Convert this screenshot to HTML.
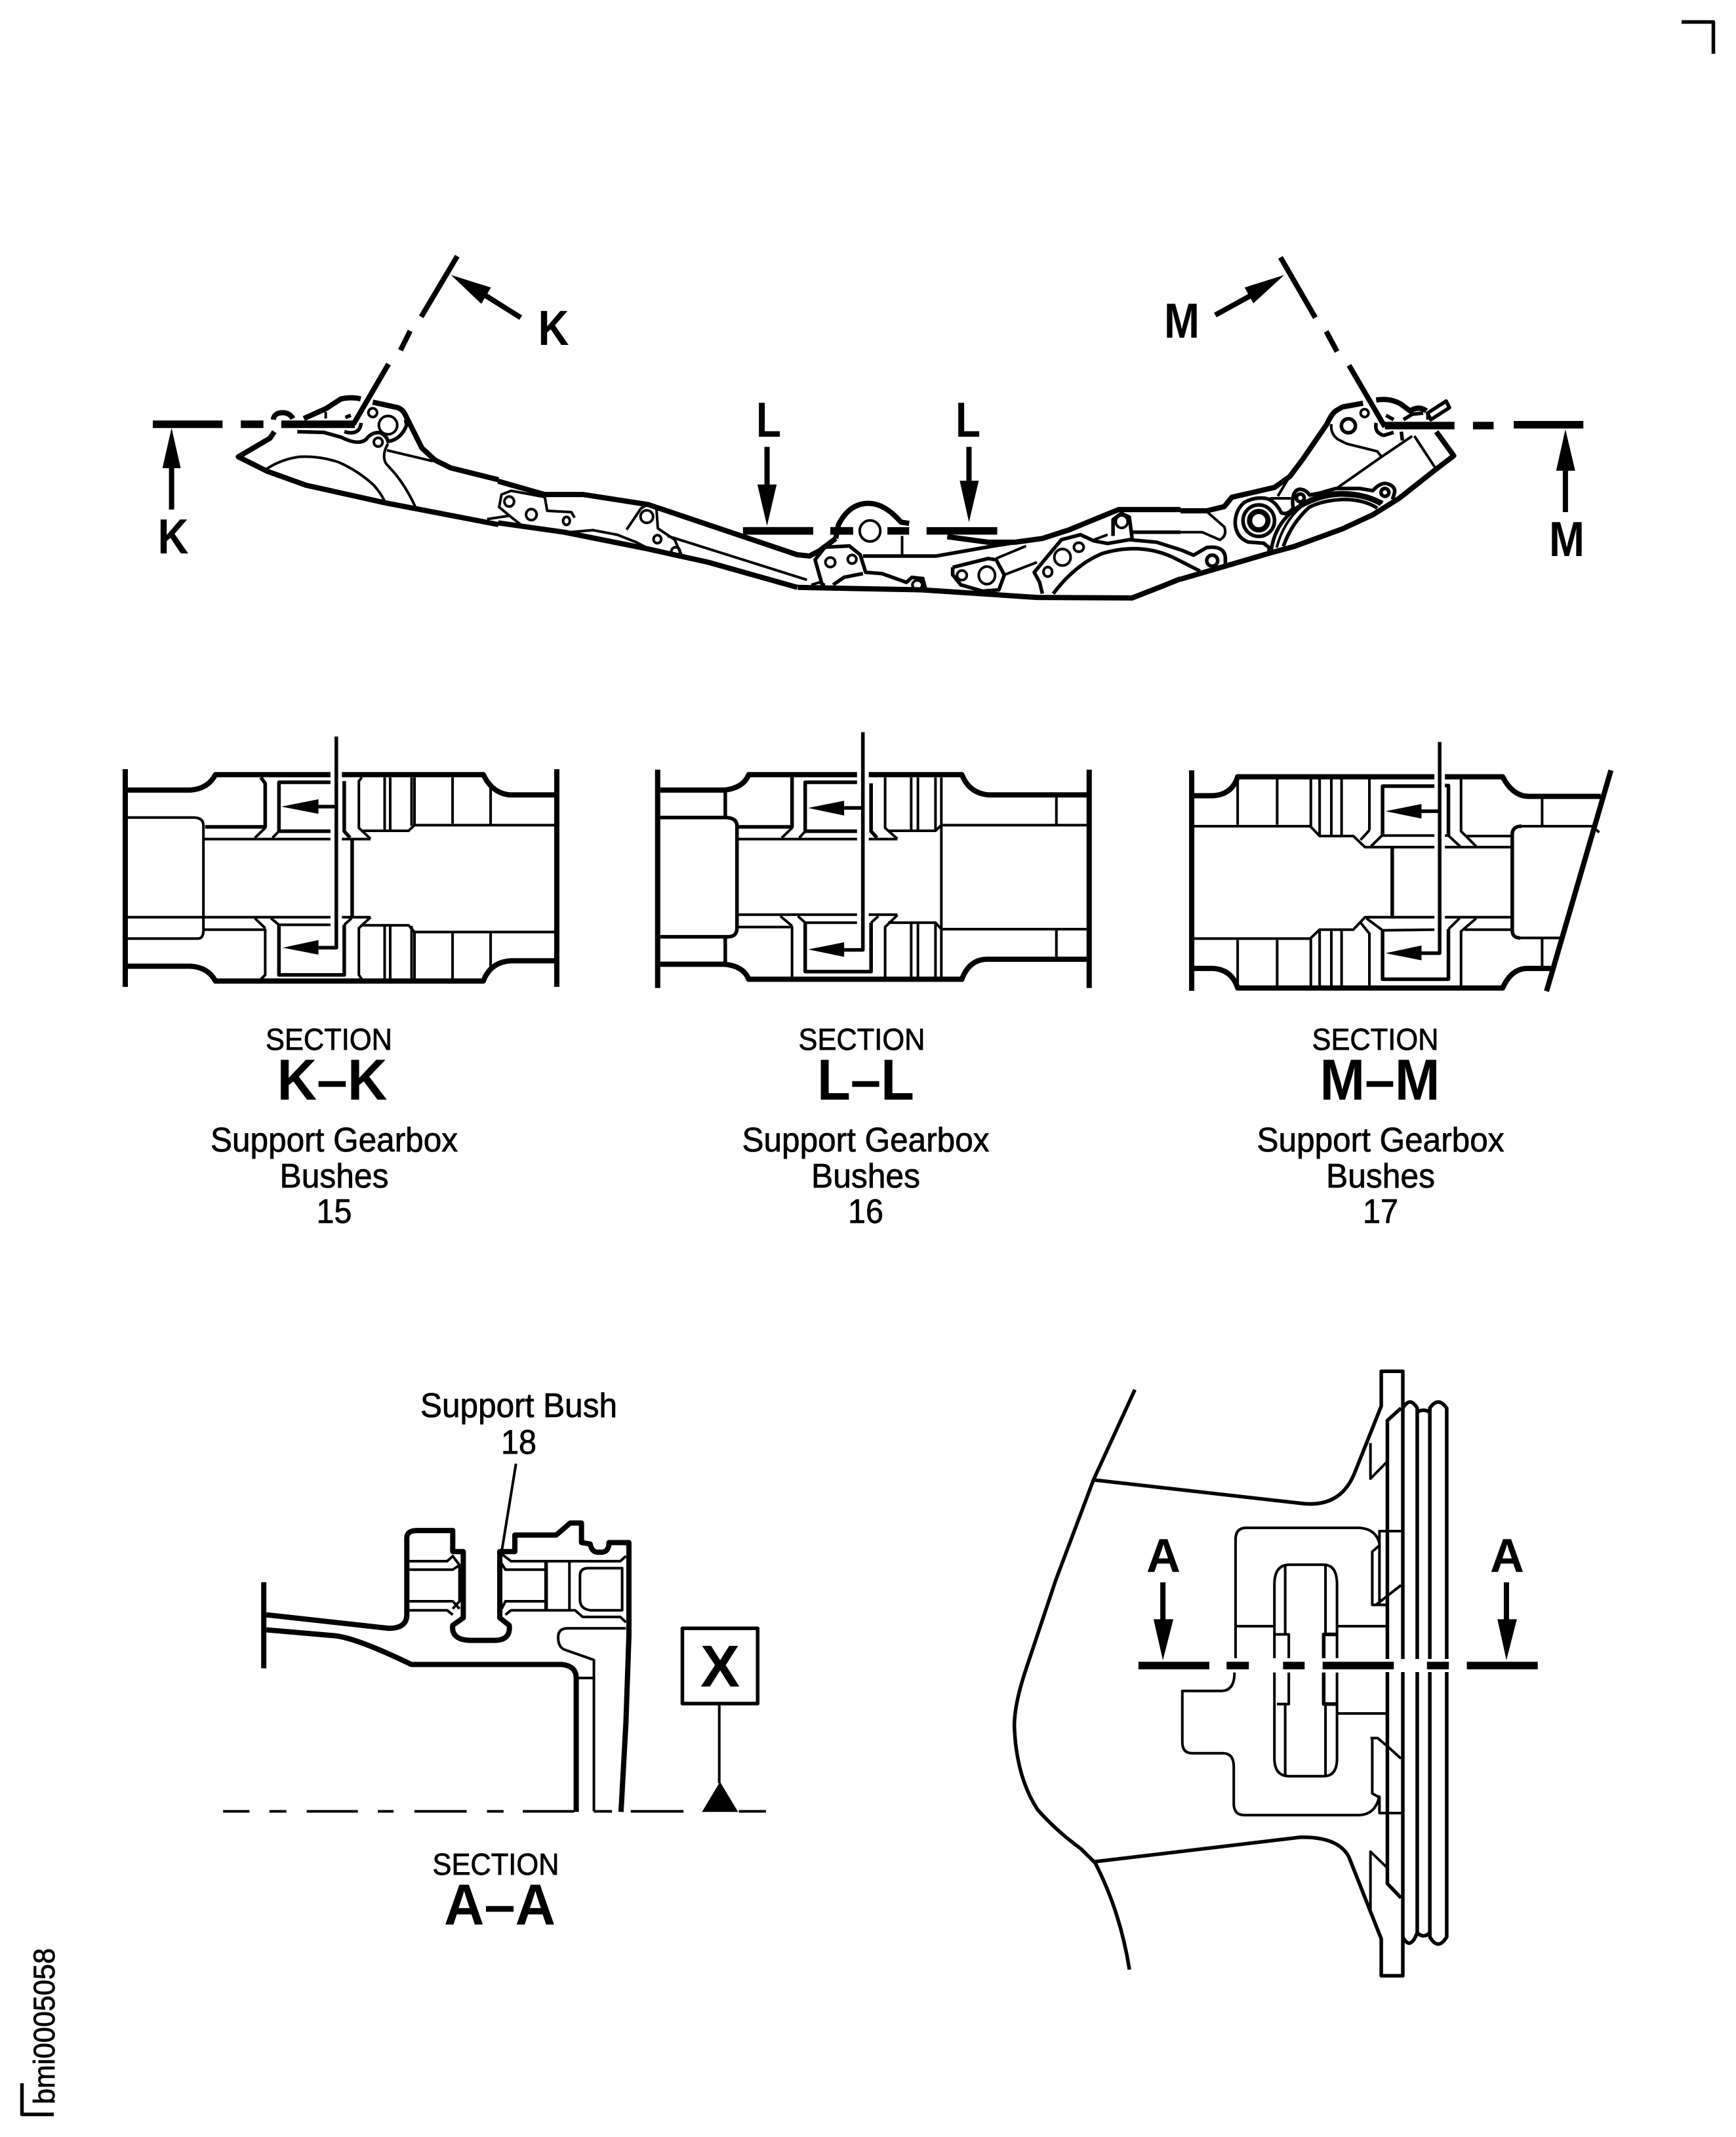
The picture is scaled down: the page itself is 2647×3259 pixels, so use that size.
<!DOCTYPE html>
<html><head><meta charset="utf-8">
<style>
html,body{margin:0;padding:0;background:#fff}
svg{display:block}
svg *{vector-effect:non-scaling-stroke}
.d{fill:none;stroke:#000;stroke-linejoin:round;stroke-linecap:butt;stroke-width:4}
.d .t{stroke-width:8}
.d .m{stroke-width:5.5}
.d .x{stroke-width:11.5}
.d .f{fill:#000;stroke:none}
text{font-family:"Liberation Sans",sans-serif;fill:#000;text-anchor:middle}
.b{font-weight:bold}
.r text,text.r{stroke:#000;stroke-width:.8}
</style></head><body>
<svg xmlns="http://www.w3.org/2000/svg" width="2647" height="3259" viewBox="0 0 2647 3259">
<rect width="2647" height="3259" fill="#fff"/>

<g class="d"><polyline class="m" points="2564,33.5 2612.5,33.5 2612.5,82"/><polyline class="m" points="33.5,3177 33.5,3224.5 82,3224.5"/></g>

<!-- top view far left, true 3x trace -->
<g class="d" transform="translate(340,590) scale(.33333)">
<polyline class="t" points="1260,630 1000,580 740,530 380,450 200,385 70,320 215,235 235,205"/>
<path class="t" d="M230,150Q235,118 272,118Q305,118 320,145"/>
<path class="t" d="M370,145L470,100L540,55Q590,45 630,55"/>
<path class="t" d="M685,70L800,95Q825,105 835,130L910,280L970,335L1040,370L1260,425"/>
<path d="M200,375Q270,330 350,320Q440,315 530,345Q620,385 690,450Q725,490 740,525"/>
<polyline points="750,290 960,340"/>
<path d="M755,260Q725,310 745,350L790,400Q845,470 880,550"/>
<circle cx="755" cy="175" r="42"/><circle cx="685" cy="118" r="20"/><circle cx="710" cy="253" r="20"/>
<path class="m" d="M340,205L460,208L540,230Q620,270 655,240Q680,205 720,210Q750,225 755,250Q815,240 840,175L835,150"/>
<polyline points="470,115 470,145"/>
<path class="m" d="M555,205Q625,225 632,165"/>
<polyline class="m" points="560,140 585,130"/>
</g>

<!-- top view left -->
<g class="d" transform="translate(200,360) scale(.7334,.3827)">
<polyline class="t" points="1385,1400 1200,1300 1070,1245 900,1180 763,1143"/>
<polyline class="t" points="763,977 860,1030 940,1030 1075,1070 1385,1270 1410,1275 1430,1255 1465,1205"/>
<polyline points="810,1150 790,1120 765,1080 770,1030 790,1015 860,1040 865,1095 915,1100 922,1122"/>
<ellipse cx="786" cy="1058" rx="10" ry="20"/><ellipse cx="832" cy="1110" rx="11" ry="22"/><ellipse cx="905" cy="1135" rx="7" ry="16"/>
<polyline points="740,1128 785,1115"/>
<polyline points="910,1180 960,1172 1010,1190 1050,1220 1080,1250"/>
<polyline points="1030,1170 1060,1085 1075,1068 1092,1085 1095,1165 1130,1210 1145,1275"/>
<ellipse cx="1072" cy="1118" rx="13" ry="25"/><ellipse cx="1094" cy="1208" rx="8" ry="16"/><ellipse cx="1132" cy="1258" rx="9" ry="18"/>
<polyline points="1115,1195 1405,1370"/>
<!-- cut line K -->
<polyline class="t" points="678,80 603,322"/><polyline class="t" points="580,378 560,455"/><polyline class="t" points="535,510 462,750"/>
<polyline class="x" points="45,750 190,750"/><polyline class="x" points="228,750 275,750"/><polyline class="x" points="312,750 465,750"/>
<polyline class="t" points="810,325 735,235"/><polygon class="f" points="665,155 748,205 728,270"/>
<polyline class="t" points="84,925 84,1090"/><polygon class="f" points="84,765 65,925 103,925"/>
<polyline class="x" points="1272,1175 1418,1175"/><polyline class="x" points="1455,1175 1500,1175"/>
<polyline class="t" points="1322,840 1322,990"/><polygon class="f" points="1322,1155 1302,990 1342,990"/>
</g>

<!-- top view centre -->
<g class="d" transform="translate(1150,360) scale(.829,.3827)">
<polyline class="t" points="80,1400 310,1410 520,1440 695,1442 745,1400 784,1366"/>
<path class="t" d="M150,1205L155,1150Q175,1065 210,1065Q240,1065 270,1140L285,1145"/>
<ellipse cx="213" cy="1175" rx="19" ry="42"/>
<polyline class="m" points="125,1390 112,1290 130,1240 175,1235 195,1270 205,1340 235,1345 280,1380 290,1360 310,1365 315,1405"/>
<ellipse cx="140" cy="1300" rx="9" ry="19"/><ellipse cx="180" cy="1288" rx="8" ry="17"/><ellipse cx="300" cy="1390" rx="9" ry="18"/>
<polyline class="m" points="200,1275 335,1275 440,1235 530,1205"/>
<polyline points="272,1195 272,1270"/>
<polyline class="m" points="145,1390 165,1360 200,1345"/>
<polyline points="105,1390 120,1380 130,1390"/>
<polyline class="t" points="355,1198 430,1220 480,1220 530,1205 580,1170 670,1090 784,1090"/>
<polyline class="m" points="365,1320 430,1285 445,1290 460,1350 450,1410 420,1415 380,1390 365,1350 365,1320"/>
<ellipse cx="382" cy="1352" rx="9" ry="19"/><ellipse cx="428" cy="1352" rx="15" ry="35"/>
<polyline points="445,1285 500,1235"/><polyline points="460,1350 520,1300"/>
<polyline class="m" points="530,1425 525,1380 515,1340 565,1210 600,1190 625,1215 650,1225 690,1210 740,1220 784,1250"/>
<ellipse cx="567" cy="1280" rx="15" ry="33"/><ellipse cx="597" cy="1240" rx="9" ry="18"/><ellipse cx="540" cy="1338" rx="8" ry="19"/>
<path class="m" d="M550,1425Q590,1310 640,1265Q710,1220 770,1280L820,1335"/>
<polyline points="650,1190 625,1210"/>
<polyline class="m" points="660,1195 660,1130 675,1105 690,1120 695,1205"/>
<ellipse cx="676" cy="1138" rx="11" ry="25"/>
<polyline class="m" points="695,1180 784,1180"/>
<!-- cut lines -->
<polyline class="x" points="-10,1175 108,1175"/><polyline class="x" points="140,1175 182,1175"/><polyline class="x" points="245,1175 285,1175"/><polyline class="x" points="317,1175 447,1175"/>
<polyline class="t" points="395,840 395,975"/><polygon class="f" points="395,1140 378,975 413,975"/>
<polyline class="t" points="968,85 1032,325"/><polyline class="t" points="1052,380 1072,460"/><polyline class="t" points="1094,515 1160,760"/>
<polyline class="x" points="1160,755 1288,755"/><polyline class="x" points="1322,755 1360,755"/><polyline class="x" points="1397,752 1525,752"/>
<polyline class="t" points="848,315 915,235"/><polygon class="f" points="975,155 902,205 918,268"/>
<polyline class="t" points="1492,935 1492,1100"/><polygon class="f" points="1492,770 1475,935 1510,935"/>
</g>

<!-- top view right, true 3x trace -->
<g class="d" transform="translate(1800,590) scale(.33333)">
<path class="t" d="M0,880L410,760L520,730L740,650L880,585L1000,510L1165,380L1250,315L1170,205"/>
<path class="t" d="M0,567H120L200,548L235,505L430,460L500,410L560,330L670,170Q690,125 710,110L740,92L835,75"/>
<path class="t" d="M895,60Q960,50 1010,80L1050,110Q1090,85 1125,110"/>
<polygon class="m" points="1130,120 1215,65 1230,95 1145,150"/>
<polyline points="1130,115 1130,150"/>
<polyline class="m" points="1020,150 1060,125 1110,120"/>
<circle class="m" cx="768" cy="178" r="32"/><circle cx="842" cy="120" r="18"/>
<path d="M690,170Q685,215 720,240L760,260L900,295L920,320"/>
<path class="m" d="M895,165Q885,210 930,222L975,208"/>
<polyline class="m" points="1010,205 1015,245"/>
<polyline points="720,460 920,320 1060,225"/>
<polyline points="1070,225 1165,370"/>
<polyline class="m" points="940,130 975,150"/>
<polyline points="445,500 490,425"/>
<path class="m" d="M400,512Q340,500 290,530Q250,565 250,625Q255,690 310,710L380,715L405,735V755"/>
<path class="m" d="M400,512Q440,530 460,575Q490,590 515,555Q505,475 545,468Q575,470 590,495L640,485L710,465L820,465L880,475Q910,440 940,442Q980,450 980,480L970,515"/>
<polyline points="410,510 505,510"/>
<circle class="m" cx="358" cy="612" r="72"/><circle class="t" cx="358" cy="612" r="42"/>
<path class="m" d="M415,745Q430,650 490,590Q590,490 720,485Q830,480 925,530"/>
<path d="M440,735Q470,620 550,550Q640,500 730,497Q840,495 915,540"/>
<path class="m" d="M470,730Q510,620 590,550Q660,515 760,515Q850,520 900,555"/>
<circle class="m" cx="548" cy="508" r="18"/><circle class="m" cx="935" cy="483" r="18"/>
<path d="M125,575L200,640Q215,680 180,700L100,665H0"/>
<path class="m" d="M0,745L60,770L120,735Q200,725 205,780V810"/>
<circle class="m" cx="145" cy="795" r="25"/>
</g>

<!-- Section K-K -->
<g class="d" transform="translate(170,1100) scale(.4464,.332)">
<path class="t" d="M47,220V1220M1521,220V1220"/>
<path class="t" d="M55,316H270Q330,310 355,245H748"/>
<path class="t" d="M787,245H1270Q1300,330 1360,338H1515"/>
<path class="t" d="M55,1125H270Q330,1130 355,1193H1270Q1295,1105 1365,1100H1515"/>
<path d="M55,442H280Q314,442 314,480V960Q314,998 295,998H55"/>
<polyline class="m" points="320,485 525,485 525,285 510,258"/>
<polyline points="525,490 490,535"/>
<polyline points="318,541 748,541"/><polyline points="787,541 885,541"/>
<polyline class="m" points="748,280 572,280 572,505 748,505"/><polyline points="572,505 550,535"/>
<polyline class="m" points="795,275 795,505 815,535"/><polyline points="855,258 845,275 845,490 885,540"/>
<polyline points="858,503 1015,503 1035,477 1515,477"/>
<path d="M933,258V500M952,258V500M1025,258V480M1035,258V477M1165,258V470M1295,300V472"/>
<path class="m" d="M822,541V895"/>
<polyline points="55,900 748,900"/><polyline points="787,900 885,900"/>
<polyline points="318,957 525,957 525,1165 510,1185"/><polyline points="490,905 525,950"/>
<polyline points="545,905 572,935 748,935"/>
<polyline class="m" points="572,935 572,1165 795,1165 795,935"/><polyline points="795,935 820,905"/>
<polyline points="885,900 845,950 845,1165 855,1185"/>
<polyline points="858,937 1015,937 1035,968 1515,968"/>
<path d="M933,940V1185M952,940V1185M1025,940V1185M1035,968V1185M1165,970V1185M1295,972V1135"/>
<polyline class="m" points="768,70 768,1040 707,1040"/><polyline class="m" points="768,392 707,392"/>
<polygon class="f" points="580,392 707,358 707,425"/><polygon class="f" points="585,1040 707,1005 707,1072"/>
</g>

<!-- Section L-L -->
<g class="d" transform="translate(980,1100) scale(.4464,.332)">
<path class="t" d="M51,222V1225M1525,222V1225"/>
<path class="t" d="M60,316H280Q345,305 362,245H732"/>
<path class="t" d="M772,245H1090Q1115,330 1180,338H1518"/>
<path class="t" d="M60,1116H280Q345,1125 362,1185H1090Q1115,1095 1175,1093H1518"/>
<path class="m" d="M282,320V437M282,996V1112"/>
<path class="m" d="M60,442H285Q322,445 322,480V950Q322,990 290,990H60"/>
<polyline class="m" points="328,485 510,485 510,257"/>
<polyline points="510,490 475,535"/>
<polyline points="328,541 732,541"/><polyline points="772,541 870,541"/>
<polyline class="m" points="732,280 555,280 555,505 732,505"/><polyline points="555,505 535,535"/>
<polyline class="m" points="780,285 780,505 800,535"/><polyline points="828,258 828,490 870,540"/>
<polyline points="838,503 1000,503 1020,477 1518,477"/>
<path d="M917,258V500M940,258V500M1000,258V500M1020,258V477M1020,477V950M1413,350V472"/>
<polyline points="328,888 732,888"/><polyline points="772,888 870,888"/>
<polyline points="328,945 510,945 510,1180"/><polyline points="470,895 510,940"/>
<polyline points="530,895 555,925 732,925"/>
<polyline class="m" points="555,925 555,1150 780,1150 780,925"/><polyline points="780,925 805,895"/>
<polyline points="870,890 828,945 828,1180"/>
<polyline points="838,925 1000,925 1020,955 1518,955"/>
<path d="M917,925V1180M940,925V1180M1000,925V1180M1020,955V1180M1413,960V1085"/>
<polyline class="m" points="752,50 752,1050 688,1050"/><polyline class="m" points="752,398 688,398"/>
<polygon class="f" points="565,398 688,365 688,433"/><polygon class="f" points="565,1048 688,1015 688,1082"/>
</g>

<!-- Section M-M -->
<g class="d" transform="translate(1780,1100) scale(.4464,.332)">
<path class="t" d="M83,225V1238M1515,225L1295,1240"/>
<path class="t" d="M90,342H150Q220,340 240,255H912"/>
<path class="t" d="M948,255H1145Q1180,345 1235,345H1480"/>
<path class="t" d="M90,1135H155Q220,1140 240,1225H1145Q1175,1135 1230,1135H1310"/>
<polyline points="90,482 488,482 520,527 635,527 675,578 912,578"/>
<polyline points="948,578 1172,578"/>
<path class="m" d="M1210,482Q1178,482 1178,520V960Q1178,995 1205,995"/>
<polyline points="1205,995 1345,995"/><polyline points="1210,482 1450,482 1475,510"/>
<path d="M240,262V475M375,262V475M490,265V490M520,265V525M560,265V525M595,265V525M690,265V500"/>
<polyline points="690,500 660,545"/>
<polyline class="m" points="912,298 735,298 735,522"/><polyline points="735,522 695,575"/><polyline points="735,525 912,525"/>
<polyline class="m" points="948,295 960,295 960,525"/><polyline points="948,525 960,525 1000,575"/>
<polyline points="1003,265 1003,505 1055,575"/><polyline points="1020,527 1172,527"/>
<path class="m" d="M768,578V900"/>
<polyline points="90,998 488,998 520,957 635,957 675,900 912,900"/>
<polyline points="948,900 1172,900"/>
<polyline points="680,905 735,960 912,957"/>
<polyline class="m" points="735,960 735,1185 960,1185 960,955"/><polyline points="960,955 998,905"/>
<polyline points="1055,905 1003,965 1003,1220"/><polyline points="1015,957 1172,957"/>
<polyline points="660,925 690,975 690,1220"/>
<path d="M240,1005V1220M375,1005V1220M490,998V1220M520,960V1220M560,960V1220M595,960V1220M1280,1000V1130M1280,355V480"/>
<polyline class="m" points="930,95 930,1065 868,1065"/><polyline class="m" points="930,413 868,413"/>
<polygon class="f" points="745,413 868,380 868,447"/><polygon class="f" points="745,1065 868,1030 868,1098"/>
</g>

<!-- Section A-A -->
<g class="d" transform="translate(300,2100) scale(.574,.459)">
<path class="t" d="M178,682V968"/>
<path class="t" d="M185,790L510,835Q558,835 558,790V535Q558,510 585,510H680V580H708V800L680,825Q675,875 730,875H790Q835,875 830,825L805,800V580H845V525H955L992,485H1022V550L1045,555Q1050,585 1070,582Q1095,585 1095,550H1148V860L1140,1150L1127,1445"/>
<path class="t" d="M185,840L370,860Q430,870 570,955H970Q1008,960 1008,1000V1445"/>
<polyline points="565,612 665,612 680,595 698,625 698,745 680,770"/>
<polyline points="565,640 680,640 698,625"/>
<polyline points="565,745 680,745 698,770"/>
<polyline points="565,775 665,775 680,790"/>
<polyline points="812,590 835,612 1125,612 1140,595"/>
<polyline points="810,620 820,640 925,640"/>
<polyline points="810,770 820,745 925,745"/>
<polyline points="820,790 835,775 1005,775 1025,797 1125,797 1140,815"/>
<path class="m" d="M928,612V775"/><path d="M990,612V775"/>
<path d="M1040,635H1130V775H1045Q1018,770 1018,740V660Q1018,635 1040,635Z"/>
<path d="M1140,835H985Q960,835 960,865Q960,895 975,905L1055,940V1443"/>
<polyline points="1010,1000 1055,1000"/>
<polyline points="848,288 810,580"/>
<path d="M70,1443H140M193,1443H238M292,1443H428M481,1443H523M578,1443H717M771,1443H815M866,1443H1003M1055,1443H1103M1153,1443H1293M1440,1443H1512"/>
<rect class="m" x="1290" y="835" width="200" height="250"/>
<polyline points="1388,1085 1388,1350"/>
<polygon class="f" points="1390,1345 1342,1445 1438,1445"/>
</g>

<!-- Side view -->
<g class="d" transform="translate(1500,2060) scale(.5485,.625)">
<path class="m" d="M420,95L305,315L200,560L120,770Q85,860 85,915Q90,1040 150,1120Q200,1170 270,1215L310,1250Q380,1370 405,1510"/>
<path class="m" d="M305,315L880,372Q990,385 1030,300L1105,135V50H1165V1525H1105V1435L1015,1235Q985,1185 880,1187L305,1247"/>
<path class="m" d="M1165,140Q1185,110 1205,140V1420Q1185,1465 1165,1430"/>
<path class="m" d="M1240,140Q1263,110 1287,140V1430Q1263,1465 1240,1430Z"/>
<path class="m" d="M1205,150Q1222,140 1240,150M1205,1420Q1222,1435 1240,1420"/>
<polyline class="m" points="1160,140 1122,170 1122,1300 1160,1335"/>
<polyline points="1122,270 1075,312 1075,225"/>
<polyline points="1160,440 1100,440 1100,620"/>
<path d="M700,750V460Q700,432 730,432H1045Q1090,435 1100,470"/>
<path d="M697,785Q697,830 660,830H552V955Q552,982 580,982H665Q695,982 695,1015V1105Q695,1133 725,1133H1040Q1090,1133 1100,1085"/>
<polyline points="1100,475 1080,490 1080,620 1122,620"/>
<polyline points="1090,620 1160,572"/>
<polyline points="1075,945 1095,945 1122,965 1160,995"/>
<polyline points="1080,945 1080,1080 1100,1090 1100,1128 1160,1128"/>
<polyline points="1075,1365 1075,1222 1122,1262"/>
<path d="M808,750V570Q808,522 850,522H945Q982,522 982,570V750"/>
<path d="M808,785V995Q808,1038 850,1038H945Q982,1038 982,995V785"/>
<path d="M838,525V690M950,520V690M838,865V1035M950,865V1035"/>
<polyline points="808,692 848,692 848,750"/>
<polyline class="m" points="982,692 945,692 945,750"/>
<polyline points="815,862 848,862 848,785"/>
<polyline class="m" points="945,785 945,862 982,862"/>
<path d="M700,672H808M985,672H1122M985,885H1122"/>
<rect x="785" y="752" width="515" height="32" fill="#fff" stroke="none"/>
<path class="x" d="M430,768H627M675,768H737M832,768H892M942,768H1140M1232,768H1293M1343,768H1540"/>
<path class="t" d="M498,565V660M1453,565V660"/>
<polygon class="f" points="498,755 472,655 527,655"/><polygon class="f" points="1453,755 1428,655 1482,655"/>
</g>

<!-- bold letters -->
<g class="b">
<text x="844" y="526" font-size="75" textLength="47" lengthAdjust="spacingAndGlyphs">K</text>
<text x="264" y="844" font-size="75" textLength="47" lengthAdjust="spacingAndGlyphs">K</text>
<text x="1172" y="666" font-size="75" textLength="38" lengthAdjust="spacingAndGlyphs">L</text>
<text x="1476" y="666" font-size="75" textLength="38" lengthAdjust="spacingAndGlyphs">L</text>
<text x="1802" y="515" font-size="75" textLength="54" lengthAdjust="spacingAndGlyphs">M</text>
<text x="2389" y="848" font-size="75" textLength="54" lengthAdjust="spacingAndGlyphs">M</text>
<text x="506.5" y="1677" font-size="88" textLength="168" lengthAdjust="spacingAndGlyphs">K–K</text>
<text x="1320" y="1677" font-size="88" textLength="148" lengthAdjust="spacingAndGlyphs">L–L</text>
<text x="2104" y="1677" font-size="88" textLength="183" lengthAdjust="spacingAndGlyphs">M–M</text>
<text x="762" y="2935" font-size="88" textLength="170" lengthAdjust="spacingAndGlyphs">A–A</text>
<text x="1098" y="2572" font-size="90">X</text>
<text x="1774" y="2397" font-size="72">A</text>
<text x="2298" y="2397" font-size="72">A</text>
</g>
<g font-size="46" class="r">
<text x="501.5" y="1601" textLength="193" lengthAdjust="spacingAndGlyphs">SECTION</text>
<text x="1314" y="1601" textLength="193" lengthAdjust="spacingAndGlyphs">SECTION</text>
<text x="2097" y="1601" textLength="193" lengthAdjust="spacingAndGlyphs">SECTION</text>
<text x="756" y="2859" textLength="193" lengthAdjust="spacingAndGlyphs">SECTION</text>
</g>
<g font-size="52" class="r">
<text x="509.5" y="1756" textLength="377" lengthAdjust="spacingAndGlyphs">Support Gearbox</text>
<text x="509.5" y="1811" textLength="166" lengthAdjust="spacingAndGlyphs">Bushes</text>
<text x="509.5" y="1865" textLength="54" lengthAdjust="spacingAndGlyphs">15</text>
<text x="1320" y="1756" textLength="377" lengthAdjust="spacingAndGlyphs">Support Gearbox</text>
<text x="1320" y="1811" textLength="166" lengthAdjust="spacingAndGlyphs">Bushes</text>
<text x="1320" y="1865" textLength="54" lengthAdjust="spacingAndGlyphs">16</text>
<text x="2105" y="1756" textLength="377" lengthAdjust="spacingAndGlyphs">Support Gearbox</text>
<text x="2105" y="1811" textLength="166" lengthAdjust="spacingAndGlyphs">Bushes</text>
<text x="2105" y="1865" textLength="54" lengthAdjust="spacingAndGlyphs">17</text>
<text x="791" y="2161" textLength="300" lengthAdjust="spacingAndGlyphs">Support Bush</text>
<text x="791" y="2217" textLength="54" lengthAdjust="spacingAndGlyphs">18</text>
</g>
<text class="r" transform="translate(83,3209) rotate(-90)" font-size="45" textLength="238" lengthAdjust="spacingAndGlyphs" style="text-anchor:start">bmi0005058</text>
</svg>
</body></html>
